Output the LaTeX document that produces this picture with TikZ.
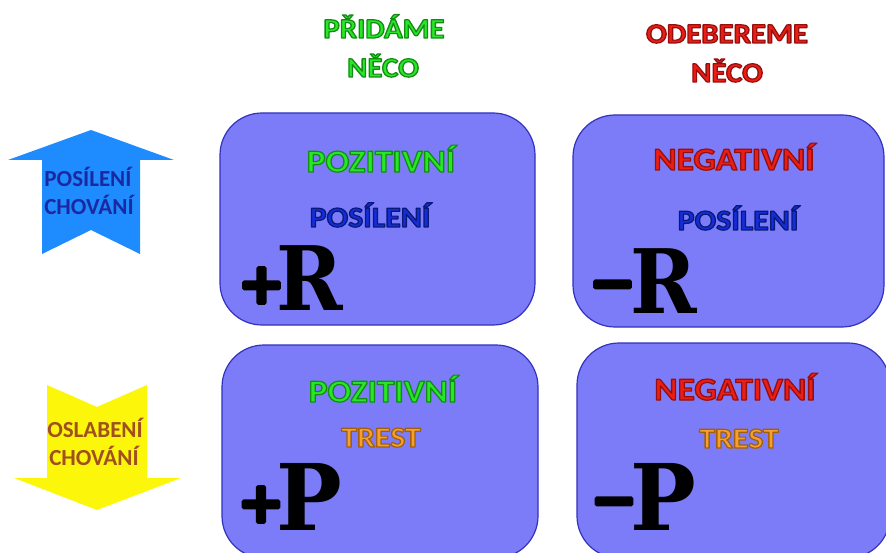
\documentclass[tikz,border=0pt]{standalone}
\usepackage{fontspec}
\setmainfont{Carlito}
\newfontfamily\bigserif{DejaVu Serif}
\newfontfamily\symsans{DejaVu Sans}
\definecolor{boxfill}{RGB}{124,124,248}
\definecolor{boxline}{RGB}{50,50,190}
\definecolor{upblue}{RGB}{30,140,255}
\definecolor{downyel}{RGB}{252,246,10}
\definecolor{grn}{RGB}{40,230,40}
\definecolor{red1}{RGB}{235,30,22}
\definecolor{blu1}{RGB}{20,45,215}
\definecolor{ora}{RGB}{245,160,45}
\definecolor{arrblue}{RGB}{28,40,160}
\definecolor{brown1}{RGB}{160,80,30}
% #1 fill colour, #2 stroke colour as "r g b", #3 text
\newcommand\otxt[3]{\scalebox{1.1}[1]{\textcolor{#1}{\special{pdf:literal q 2 Tr 1.2 w 1 j #2 RG}#3\special{pdf:literal Q}}}}
\newcommand\heavysign[1]{\makebox[28pt]{\special{pdf:literal q 2 Tr 3.5 w 1 j 0 0 0 RG}#1\special{pdf:literal Q}}}
\def\grnd{0.08 0.55 0.08}
\def\redd{0.59 0.06 0.06}
\def\blud{0.04 0.1 0.47}
\def\orad{0.63 0.37 0.06}
\begin{document}
\begin{tikzpicture}[x=1pt,y=-1pt,
  box/.style={draw=boxline, fill=boxfill, line width=1.2pt, rounded corners=42pt, inner sep=0pt},
  lbl/.style={inner sep=0pt, anchor=base, font=\fontsize{29}{36}\selectfont\bfseries},
  lblbig/.style={inner sep=0pt, anchor=base, font=\fontsize{32}{36}\selectfont\bfseries},
  head/.style={inner sep=0pt, anchor=base, font=\fontsize{28}{39}\selectfont\bfseries},
  arrtxt/.style={inner sep=0pt, anchor=base, font=\fontsize{23}{28}\selectfont\bfseries},
  sign/.style={inner sep=0pt, anchor=base, font=\fontsize{56}{60}\selectfont\symsans\bfseries},
  letter/.style={inner sep=0pt, anchor=base west, font=\bigserif\bfseries}]
\useasboundingbox (0,0) rectangle (886,553);
\fill[white] (0,0) rectangle (886,553);
% headers
\node[head] (h1) at (384,38) {\otxt{grn}{\grnd}{PŘIDÁME}};
\node[head] (h1b) at (383,77) {\otxt{grn}{\grnd}{NĚCO}};
\node[head] (h2) at (727,43) {\otxt{red1}{\redd}{ODEBEREME}};
\node[head] (h2b) at (727,82) {\otxt{red1}{\redd}{NĚCO}};
% arrows
\fill[upblue] (91,130) -- (174,160) -- (140,160) -- (140,254) -- (91,230) -- (42,254) -- (42,160) -- (8,160) -- cycle;
\fill[downyel] (47,385) -- (97,407) -- (147,385) -- (147,478) -- (181,478) -- (97,510) -- (14,478) -- (47,478) -- cycle;
\node[arrtxt, text=arrblue] (up1) at (88,187) {POSÍLENÍ};
\node[arrtxt, text=arrblue] (up2) at (89,215) {CHOVÁNÍ};
\node[arrtxt, text=brown1] (dn1) at (95,437) {OSLABENÍ};
\node[arrtxt, text=brown1] (dn2) at (94,465) {CHOVÁNÍ};
% boxes
\node[box, minimum width=315pt, minimum height=212pt] (b1) at (377.5,219) {};
\node[box, minimum width=311pt, minimum height=212pt] (b2) at (728.5,221) {};
\node[box, minimum width=316pt, minimum height=213pt] (b3) at (380,451.5) {};
\node[box, minimum width=313pt, minimum height=215pt] (b4) at (733.5,450.5) {};
% box texts
\node[lblbig] (t1a) at (381,172) {\otxt{grn}{\grnd}{POZITIVNÍ}};
\node[lbl] (t1b) at (370,227) {\otxt{blu1}{\blud}{POSÍLENÍ}};
\node[lblbig] (t2a) at (734,170) {\otxt{red1}{\redd}{NEGATIVNÍ}};
\node[lbl] (t2b) at (738,230) {\otxt{blu1}{\blud}{POSÍLENÍ}};
\node[lblbig] (t3a) at (383,402) {\otxt{grn}{\grnd}{POZITIVNÍ}};
\node[lbl] (t3b) at (381,447) {\otxt{ora}{\orad}{TREST}};
\node[lblbig] (t4a) at (735,400) {\otxt{red1}{\redd}{NEGATIVNÍ}};
\node[lbl] (t4b) at (739,448) {\otxt{ora}{\orad}{TREST}};
% symbols
\node[sign] (s1) at (261.5,303) {\heavysign{+}};
\node[letter, font=\fontsize{89}{89}\selectfont\bigserif\bfseries] (r1) at (276,311) {\scalebox{0.9}[1]{R}};
\node[sign] (s2) at (612.5,302) {\heavysign{−}};
\node[letter, font=\fontsize{89}{89}\selectfont\bigserif\bfseries] (r2) at (630,313) {\scalebox{0.9}[1]{R}};
\node[sign] (s3) at (261,522) {\heavysign{+}};
\node[letter, font=\fontsize{92}{92}\selectfont\bigserif\bfseries] (p1) at (276,530) {\scalebox{0.95}[1]{P}};
\node[sign] (s4) at (614,519) {\heavysign{−}};
\node[letter, font=\fontsize{92}{92}\selectfont\bigserif\bfseries] (p2) at (630,530) {\scalebox{0.95}[1]{P}};
\end{tikzpicture}
\end{document}
